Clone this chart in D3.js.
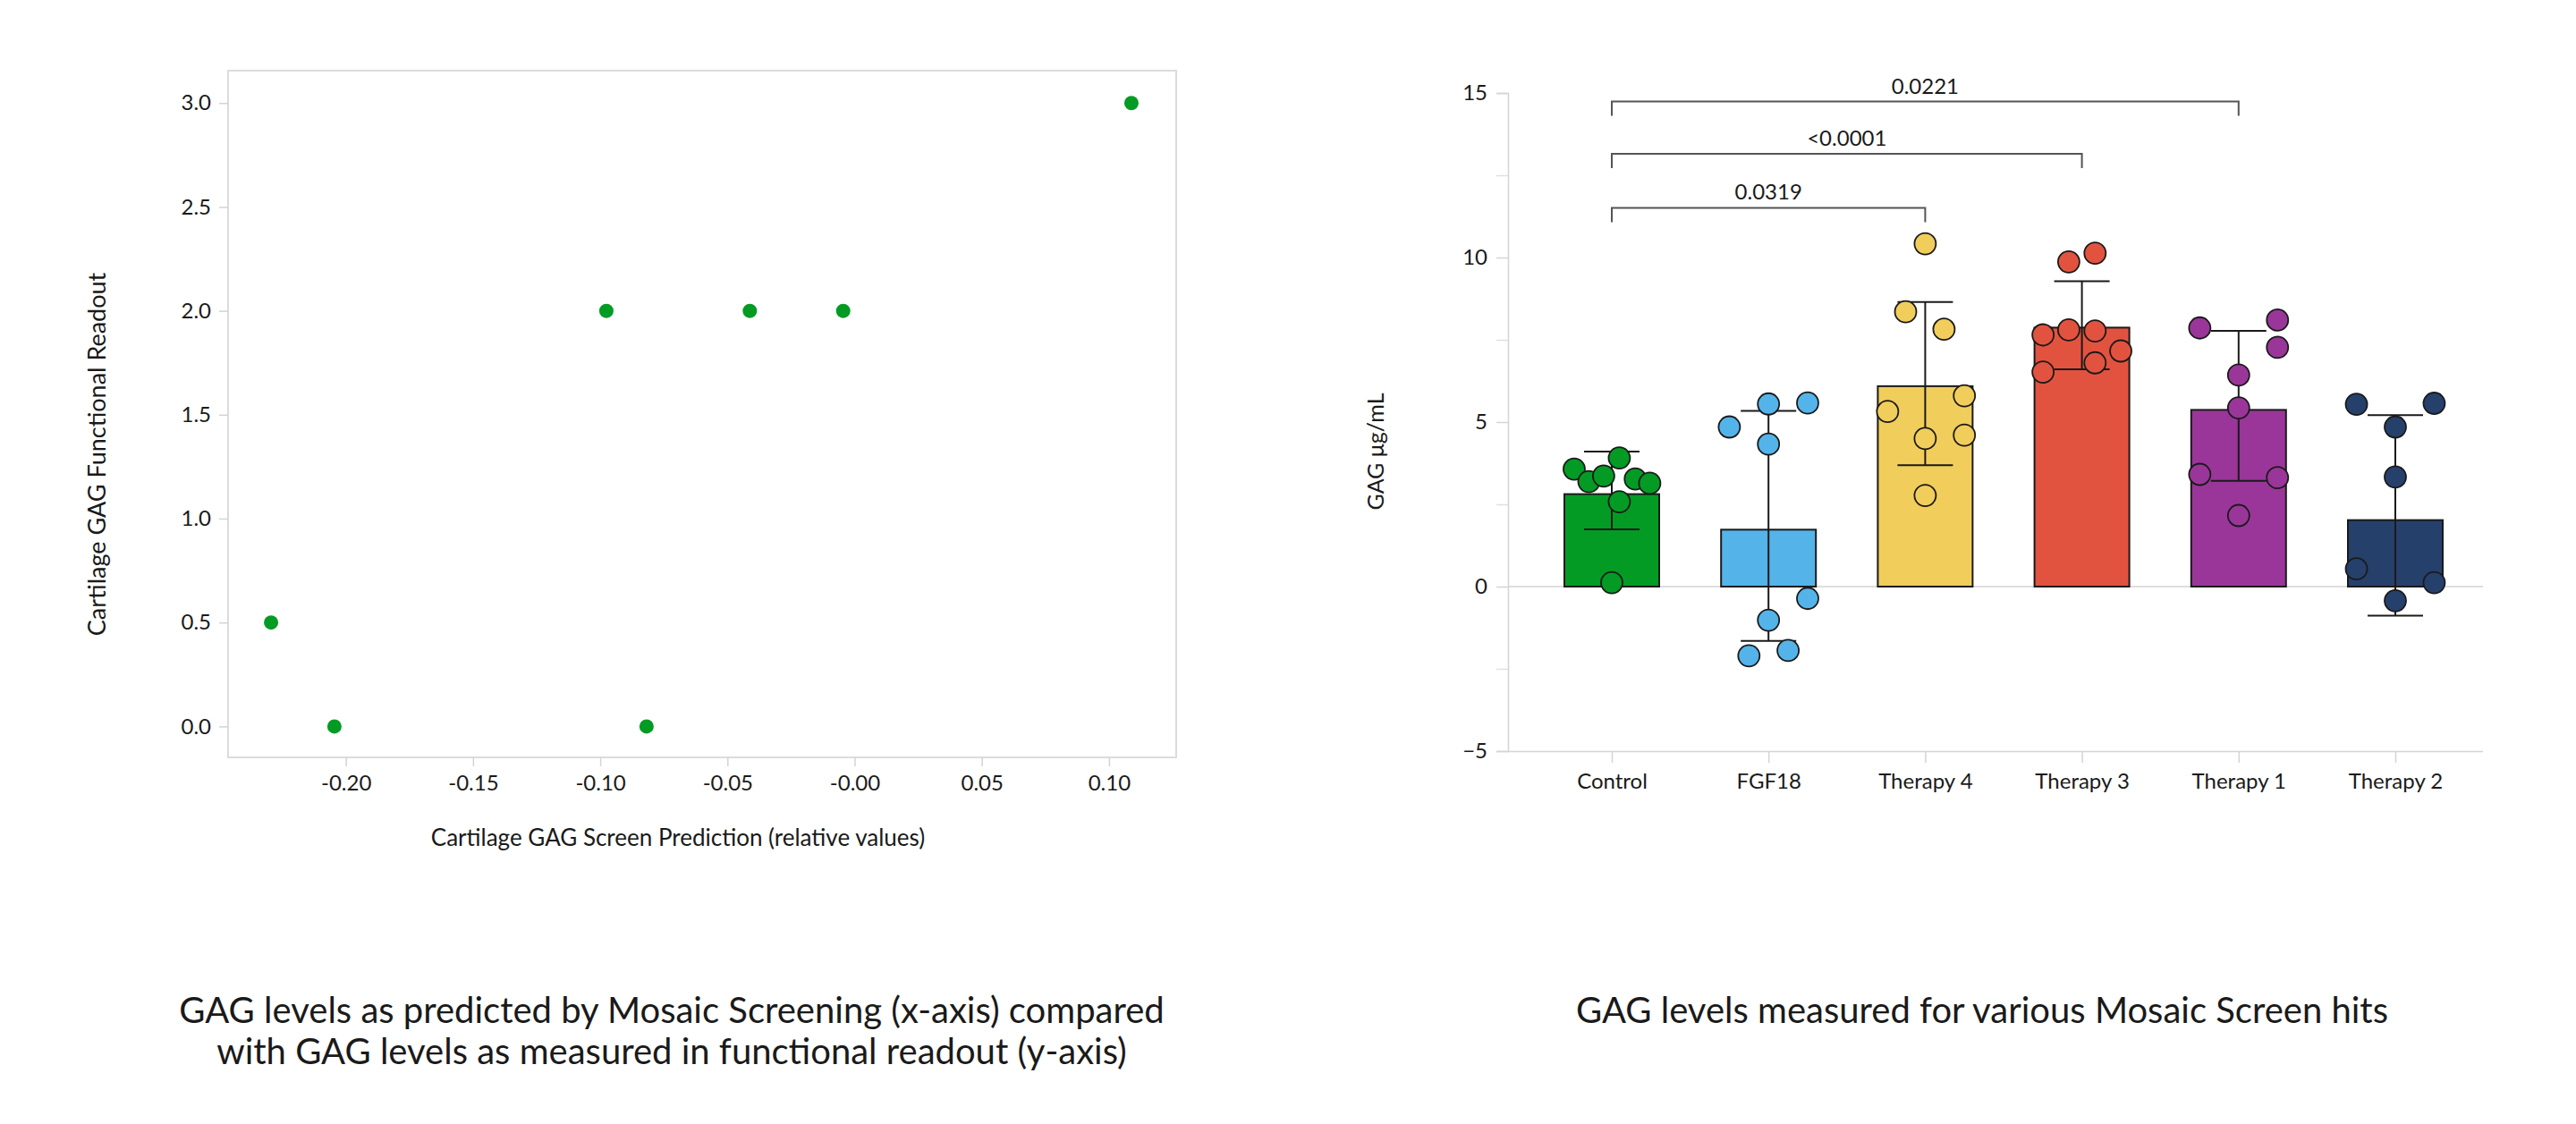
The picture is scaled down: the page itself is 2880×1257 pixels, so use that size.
<!DOCTYPE html>
<html>
<head>
  <title>GAG levels</title>
  <script src="https://d3js.org/d3.v7.min.js"></script>
  <style>
    body { margin: 0; background: #fff; }
    text { font-family: Lato, "Open Sans", sans-serif; fill: #1a1a1a; }
  </style>
</head>
<body>
  <svg id="chart" width="2880" height="1257"></svg>

  <script>
    // ---- left panel: screen prediction vs functional readout
    var predX = [-0.2294, -0.2045, -0.0976, -0.0818, -0.0412, -0.0045, 0.1088];
    var readoutY = [0.5, 0, 2, 0, 2, 2, 3];
    var scatterXTicks = [-0.20, -0.15, -0.10, -0.05, 0, 0.05, 0.10];
    var scatterXLabels = ["-0.20", "-0.15", "-0.10", "-0.05", "-0.00", "0.05", "0.10"];
    var scatterYTicks = [0, 0.5, 1.0, 1.5, 2.0, 2.5, 3.0];

    // ---- right panel: GAG per treatment
    var groups = ["Control", "FGF18", "Therapy 4", "Therapy 3", "Therapy 1", "Therapy 2"];
    var barMeans = [2.81, 1.73, 6.09, 7.87, 5.37, 2.02];
    var errUpper = [4.10, 5.34, 8.65, 9.28, 7.77, 5.21];
    var errLower = [1.74, -1.65, 3.69, 6.60, 3.21, -0.88];
    var groupColors = ["#049b24", "#54b4ea", "#f1cd5b", "#e2533f", "#9a3699", "#26406c"];
    var groupPoints = [
      [3.57, 3.19, 3.36, 3.91, 3.27, 3.14, 2.58, 0.12],
      [4.85, 5.55, 5.58, 4.33, -0.36, -1.02, -2.10, -1.94],
      [10.42, 8.35, 7.82, 5.80, 5.32, 4.50, 4.60, 2.77],
      [9.87, 10.13, 7.65, 7.80, 7.77, 7.16, 6.80, 6.52],
      [7.86, 8.10, 7.27, 6.43, 5.43, 3.41, 3.31, 2.16],
      [5.54, 5.57, 4.85, 3.33, 0.54, 0.12, -0.43]
    ];
    // horizontal spread of each point, as a fraction of the category step
    var groupJitter = [
      [-0.24, -0.146, -0.052, 0.048, 0.15, 0.242, 0.048, 0],
      [-0.25, 0, 0.25, 0, 0.25, 0, -0.125, 0.125],
      [0, -0.125, 0.12, 0.25, -0.24, 0, 0.25, 0],
      [-0.084, 0.084, -0.248, -0.084, 0.084, 0.248, 0.084, -0.248],
      [-0.248, 0.248, 0.248, 0, 0, -0.248, 0.248, 0],
      [-0.248, 0.248, 0, 0, -0.248, 0.248, 0]
    ];
    var barYTicks = [-5, 0, 5, 10, 15];
    var barYMinor = [-2.5, 2.5, 7.5, 12.5];
    var compFrom = ["Control", "Control", "Control"];
    var compTo = ["Therapy 4", "Therapy 3", "Therapy 1"];
    var compP = ["0.0319", "<0.0001", "0.0221"];
    var compLevel = [11.51, 13.15, 14.74];

    var svg = d3.select("#chart");

    // ================= scatter =================
    var sx = d3.scaleLinear().domain([-0.2463, 0.1264]).range([255, 1315]);
    var sy = d3.scaleLinear().domain([-0.149, 3.156]).range([847, 79]);

    svg.append("rect")
      .attr("x", 255).attr("y", 79)
      .attr("width", 1315 - 255).attr("height", 847 - 79)
      .attr("fill", "none")
      .attr("stroke", "#dcdcdc")
      .attr("stroke-width", 2);

    var sxAxis = svg.append("g")
      .attr("transform", "translate(0,847)")
      .call(d3.axisBottom(sx).tickValues(scatterXTicks)
        .tickFormat(function(d, i) { return scatterXLabels[i]; })
        .tickSize(10).tickPadding(10));
    var syAxis = svg.append("g")
      .attr("transform", "translate(255,0)")
      .call(d3.axisLeft(sy).tickValues(scatterYTicks)
        .tickFormat(d3.format(".1f")).tickSize(10).tickPadding(9));
    [sxAxis, syAxis].forEach(function(a) {
      a.select(".domain").remove();
      a.selectAll(".tick line").attr("stroke", "#d4d4d4").attr("stroke-width", 1.5);
      a.selectAll(".tick text").attr("font-size", 24).attr("fill", "#1a1a1a");
    });

    svg.append("g").selectAll("circle")
      .data(predX)
      .enter()
      .append("circle")
      .attr("cx", function(d) { return sx(d); })
      .attr("cy", function(d, i) { return sy(readoutY[i]); })
      .attr("r", 8)
      .attr("fill", "#049b24");

    svg.append("text")
      .attr("x", 758).attr("y", 946)
      .attr("text-anchor", "middle")
      .attr("font-size", 26)
      .text("Cartilage GAG Screen Prediction (relative values)");

    svg.append("text")
      .attr("transform", "translate(118,508) rotate(-90)")
      .attr("text-anchor", "middle")
      .attr("font-size", 27)
      .text("Cartilage GAG Functional Readout");

    // ================= bars =================
    var bx = d3.scalePoint().domain(groups).range([1802, 2678]);
    var step = bx.step();
    var barW = 106;
    var by = d3.scaleLinear().domain([-5, 15]).range([840, 104]);

    // zero reference line
    svg.append("line")
      .attr("x1", 1686).attr("x2", 2776)
      .attr("y1", by(0)).attr("y2", by(0))
      .attr("stroke", "#dedede").attr("stroke-width", 2);

    var byAxis = svg.append("g")
      .attr("transform", "translate(1686,0)")
      .call(d3.axisLeft(by).tickValues(barYTicks).tickSize(13).tickPadding(10));
    byAxis.select(".domain").attr("stroke", "#d4d4d4").attr("stroke-width", 1.5);
    byAxis.selectAll(".tick line").attr("stroke", "#d4d4d4").attr("stroke-width", 1.5);
    byAxis.selectAll(".tick text").attr("font-size", 24).attr("fill", "#1a1a1a");

    svg.append("g")
      .attr("transform", "translate(1686,0)")
      .call(d3.axisLeft(by).tickValues(barYMinor).tickSize(13).tickFormat(""))
      .call(function(g) {
        g.select(".domain").remove();
        g.selectAll(".tick line").attr("stroke", "#e0e0e0").attr("stroke-width", 1.5);
      });

    var bxAxis = svg.append("g")
      .attr("transform", "translate(0,840)")
      .call(d3.axisBottom(bx).tickSize(13).tickPadding(12).tickSizeOuter(0));
    bxAxis.select(".domain").attr("d", "M1686,0.5H2776").attr("stroke", "#d4d4d4").attr("stroke-width", 1.5);
    bxAxis.selectAll(".tick line").attr("stroke", "#d4d4d4").attr("stroke-width", 1.5);
    bxAxis.selectAll(".tick text").attr("font-size", 24).attr("fill", "#1a1a1a");

    // bars
    svg.append("g").selectAll("rect")
      .data(groups)
      .enter()
      .append("rect")
      .attr("x", function(d) { return bx(d) - barW / 2; })
      .attr("y", function(d, i) { return by(Math.max(barMeans[i], 0)); })
      .attr("width", barW)
      .attr("height", function(d, i) { return Math.abs(by(barMeans[i]) - by(0)); })
      .attr("fill", function(d, i) { return groupColors[i]; })
      .attr("stroke", "#1a1a1a")
      .attr("stroke-width", 2);

    // error bars
    var eb = svg.append("g").attr("stroke", "#1a1a1a").attr("stroke-width", 2);
    groups.forEach(function(g, i) {
      var cx = bx(g);
      eb.append("line").attr("x1", cx).attr("x2", cx)
        .attr("y1", by(errUpper[i])).attr("y2", by(errLower[i]));
      eb.append("line").attr("x1", cx - 31).attr("x2", cx + 31)
        .attr("y1", by(errUpper[i])).attr("y2", by(errUpper[i]));
      eb.append("line").attr("x1", cx - 31).attr("x2", cx + 31)
        .attr("y1", by(errLower[i])).attr("y2", by(errLower[i]));
    });

    // individual points
    groups.forEach(function(g, i) {
      svg.append("g").selectAll("circle")
        .data(groupPoints[i])
        .enter()
        .append("circle")
        .attr("cx", function(d, j) { return bx(g) + groupJitter[i][j] * step; })
        .attr("cy", function(d) { return by(d); })
        .attr("r", 12)
        .attr("fill", groupColors[i])
        .attr("stroke", "#1a1a1a")
        .attr("stroke-width", 1.8);
    });

    // significance brackets
    compP.forEach(function(p, i) {
      var x1 = bx(compFrom[i]), x2 = bx(compTo[i]);
      var yTop = by(compLevel[i]);
      svg.append("path")
        .attr("d", "M" + x1 + "," + (yTop + 16) + "V" + yTop + "H" + x2 + "V" + (yTop + 16))
        .attr("fill", "none")
        .attr("stroke", "#555")
        .attr("stroke-width", 2);
      svg.append("text")
        .attr("x", (x1 + x2) / 2)
        .attr("y", yTop - 9)
        .attr("text-anchor", "middle")
        .attr("font-size", 24)
        .text(p);
    });

    svg.append("text")
      .attr("transform", "translate(1547,505) rotate(-90)")
      .attr("text-anchor", "middle")
      .attr("font-size", 25)
      .text("GAG μg/mL");

    // ================= captions =================
    svg.append("text")
      .attr("x", 751).attr("y", 1144)
      .attr("text-anchor", "middle")
      .attr("font-size", 40)
      .text("GAG levels as predicted by Mosaic Screening (x-axis) compared");
    svg.append("text")
      .attr("x", 751).attr("y", 1190)
      .attr("text-anchor", "middle")
      .attr("font-size", 40)
      .text("with GAG levels as measured in functional readout (y-axis)");
    svg.append("text")
      .attr("x", 2216).attr("y", 1144)
      .attr("text-anchor", "middle")
      .attr("font-size", 40)
      .text("GAG levels measured for various Mosaic Screen hits");
  </script>
</body>
</html>
